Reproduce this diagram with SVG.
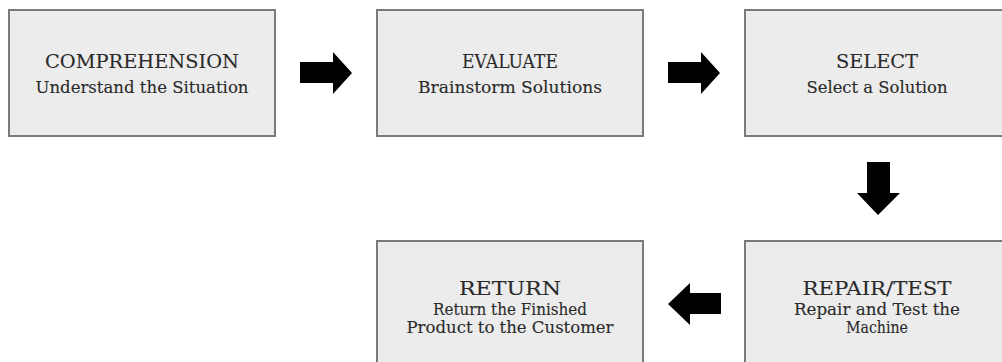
<svg xmlns="http://www.w3.org/2000/svg" width="1002" height="362" viewBox="0 0 1002 362">
  <style>
    .box { fill: #ececec; stroke: #7a7a7a; stroke-width: 2; }
    .title { font-family: "DejaVu Serif", "Liberation Serif", serif; font-size: 19px; fill: #2a2a2a; stroke: #2a2a2a; stroke-width: 0.12; text-anchor: middle; }
    .sub { font-family: "DejaVu Serif", "Liberation Serif", serif; font-size: 16px; fill: #2a2a2a; stroke: #2a2a2a; stroke-width: 0.12; text-anchor: middle; }
    .arrow { fill: #000000; }
  </style>
  <rect width="1002" height="362" fill="#ffffff"/>

  <!-- process steps -->
  <g id="comprehension">
    <rect class="box" x="9" y="10" width="266" height="126"/>
    <text class="title" x="142" y="68" textLength="194" lengthAdjust="spacingAndGlyphs">COMPREHENSION</text>
    <text class="sub" x="142" y="93" textLength="213" lengthAdjust="spacingAndGlyphs">Understand the Situation</text>
  </g>

  <g id="evaluate">
    <rect class="box" x="377" y="10" width="266" height="126"/>
    <text class="title" x="510" y="68" textLength="96" lengthAdjust="spacingAndGlyphs">EVALUATE</text>
    <text class="sub" x="510" y="93" textLength="184" lengthAdjust="spacingAndGlyphs">Brainstorm Solutions</text>
  </g>

  <g id="select">
    <rect class="box" x="745" y="10" width="266" height="126"/>
    <text class="title" x="877" y="68" textLength="82" lengthAdjust="spacingAndGlyphs">SELECT</text>
    <text class="sub" x="877" y="93" textLength="141" lengthAdjust="spacingAndGlyphs">Select a Solution</text>
  </g>

  <g id="repair-test">
    <rect class="box" x="745" y="241" width="266" height="130"/>
    <text class="title" x="877" y="295" textLength="149" lengthAdjust="spacingAndGlyphs">REPAIR/TEST</text>
    <text class="sub" x="877" y="315" textLength="166" lengthAdjust="spacingAndGlyphs">Repair and Test the</text>
    <text class="sub" x="877" y="333" textLength="62" lengthAdjust="spacingAndGlyphs">Machine</text>
  </g>

  <g id="return">
    <rect class="box" x="377" y="241" width="266" height="130"/>
    <text class="title" x="510" y="295" textLength="102" lengthAdjust="spacingAndGlyphs">RETURN</text>
    <text class="sub" x="510" y="315" textLength="154" lengthAdjust="spacingAndGlyphs">Return the Finished</text>
    <text class="sub" x="510" y="333" textLength="207" lengthAdjust="spacingAndGlyphs">Product to the Customer</text>
  </g>

  <!-- block arrows between steps -->
  <g id="connectors">
    <path class="arrow" d="M300,62 H333 V52 L352,73 L333,94 V83 H300 Z"/>
    <path class="arrow" d="M668,62 H701 V52 L720,73 L701,94 V83 H668 Z"/>
    <path class="arrow" d="M867,162 H890 V193 H900 L878,215 L857,193 H867 Z"/>
    <path class="arrow" d="M721,293 H690 V283 L668,304 L690,325 V314 H721 Z"/>
  </g>
</svg>
